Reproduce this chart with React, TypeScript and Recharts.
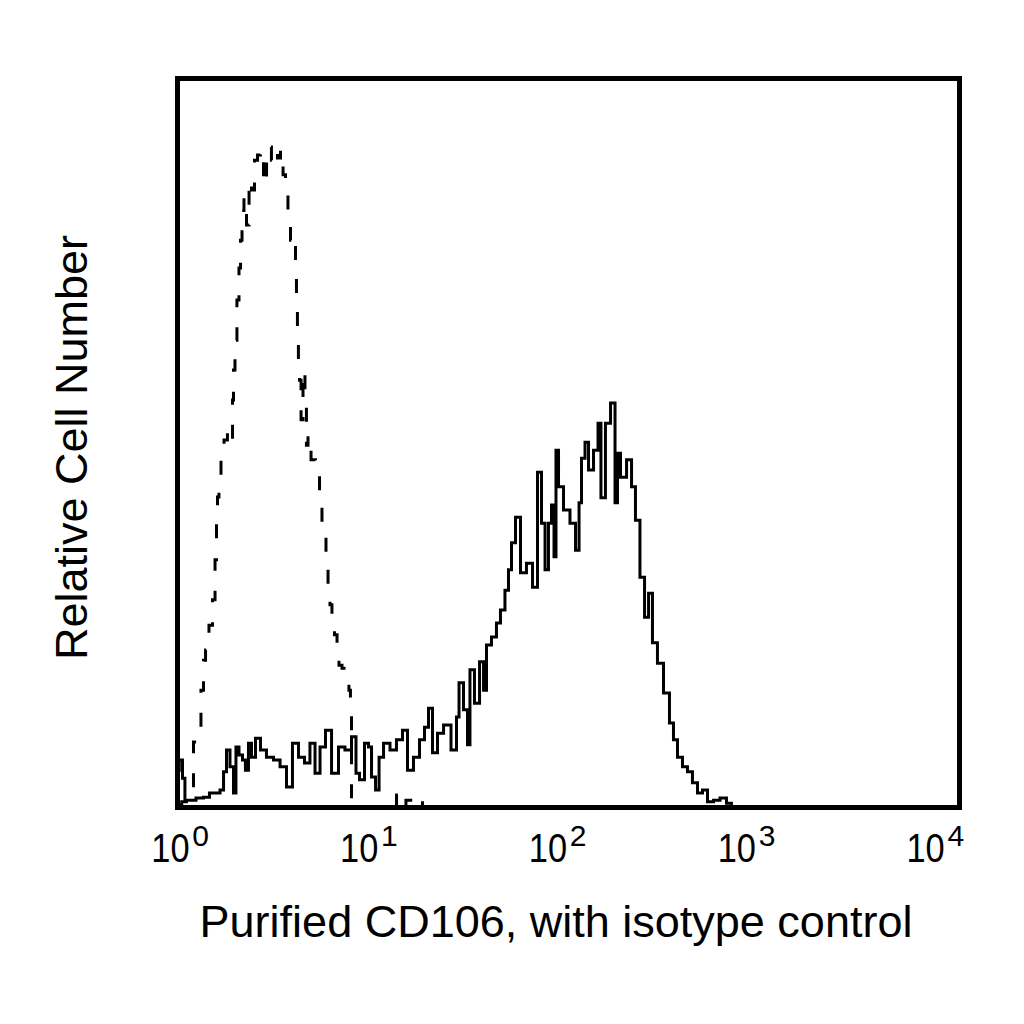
import React from "react";
import { LineChart, Line, XAxis, YAxis, ReferenceArea } from "recharts";

// x = log10(fluorescence intensity), y = relative cell number (% of plot height)
const solidX = [
  0.0, 0.018, 0.033, 0.043, 0.074, 0.115, 0.151, 0.176, 0.207, 0.228, 0.243, 0.258, 0.279, 0.294, 0.304,
  0.325, 0.34, 0.355, 0.371, 0.386, 0.412, 0.437, 0.473, 0.509, 0.54, 0.575, 0.601, 0.637, 0.662, 0.693,
  0.714, 0.744, 0.77, 0.806, 0.841, 0.872, 0.908, 0.918, 0.944, 0.969, 0.985, 1.0, 1.026, 1.036, 1.072,
  1.102, 1.138, 1.164, 1.189, 1.225, 1.251, 1.276, 1.292, 1.317, 1.343, 1.379, 1.419, 1.435, 1.445, 1.481,
  1.486, 1.506, 1.532, 1.558, 1.573, 1.588, 1.624, 1.639, 1.665, 1.685, 1.701, 1.716, 1.742, 1.767, 1.803,
  1.829, 1.854, 1.87, 1.89, 1.905, 1.921, 1.931, 1.941, 1.957, 1.992, 2.023, 2.049, 2.059, 2.074, 2.095,
  2.11, 2.146, 2.156, 2.176, 2.202, 2.228, 2.248, 2.253, 2.279, 2.315, 2.33, 2.355, 2.376, 2.402, 2.417,
  2.442, 2.468, 2.504, 2.529, 2.545, 2.57, 2.596, 2.621, 2.647, 2.673, 2.698, 2.724, 2.76, 2.79, 2.826,
  2.841, 4.0,
];
const solidY = [
  5.1, 6.5, 4.0, 1.0, 1.0, 1.3, 1.4, 2.0, 2.0, 2.4, 4.9, 7.9, 5.6, 2.0, 8.3,
  7.2, 6.5, 5.1, 8.8, 6.9, 9.5, 7.9, 6.9, 6.5, 5.6, 2.8, 8.8, 6.9, 6.1, 8.8,
  4.7, 8.3, 10.6, 4.7, 8.3, 7.9, 9.7, 4.7, 3.8, 8.8, 8.3, 4.2, 2.4, 6.9, 8.8,
  7.9, 9.3, 10.6, 5.1, 6.9, 9.3, 11.0, 13.6, 7.5, 10.2, 11.3, 7.9, 12.4, 17.1, 13.4,
  8.6, 18.9, 14.3, 20.0, 16.1, 22.3, 23.4, 25.3, 27.1, 29.8, 32.6, 36.3, 39.8, 32.2, 33.5,
  30.2, 46.0, 39.0, 32.6, 39.0, 41.5, 34.4, 49.0, 44.0, 40.8, 39.0, 35.3, 41.8, 47.9, 50.1,
  46.3, 49.0, 52.7, 42.5, 52.7, 55.5, 41.8, 48.6, 45.3, 47.7, 44.0, 39.4, 31.6, 26.1, 29.4,
  22.6, 19.8, 15.7, 11.6, 9.3, 6.9, 5.6, 4.9, 3.4, 2.0, 2.4, 0.8, 1.0, 1.3, 0.6,
  0.0, 0.0,
];

const isoX = [
  0.0, 0.043, 0.074, 0.09, 0.11, 0.13, 0.136, 0.151, 0.171, 0.187, 0.197, 0.202, 0.207, 0.217, 0.228,
  0.248, 0.263, 0.279, 0.284, 0.289, 0.299, 0.309, 0.32, 0.325, 0.335, 0.345, 0.361, 0.371, 0.386, 0.402,
  0.417, 0.432, 0.448, 0.463, 0.473, 0.488, 0.504, 0.519, 0.535, 0.545, 0.56, 0.57, 0.586, 0.601, 0.606,
  0.611, 0.616, 0.621, 0.627, 0.637, 0.647, 0.657, 0.662, 0.673, 0.693, 0.719, 0.734, 0.744, 0.754, 0.765,
  0.775, 0.785, 0.795, 0.811, 0.821, 0.831, 0.852, 0.872, 0.882, 0.887, 0.893, 1.113, 1.128, 1.148, 1.189,
  1.215, 1.24, 1.266, 4.0,
];
const isoY = [
  0.3, 0.8, 1.3, 9.0, 10.6, 16.1, 20.2, 21.6, 25.0, 28.5, 34.0, 39.4, 42.6, 44.7, 47.7,
  50.4, 51.8, 50.4, 55.9, 60.0, 64.1, 69.6, 74.0, 77.8, 81.9, 83.7, 79.9, 86.1, 84.7, 88.8,
  89.5, 90.2, 85.4, 88.8, 90.6, 88.8, 90.2, 89.1, 90.2, 86.8, 84.7, 81.3, 77.8, 78.5, 73.7,
  68.2, 64.1, 60.7, 58.6, 53.2, 60.0, 55.9, 49.7, 51.1, 47.7, 46.7, 42.9, 39.4, 37.1, 34.0,
  29.8, 27.8, 24.8, 23.7, 21.6, 19.5, 19.1, 18.5, 16.1, 12.7, 0.0, 0.0, 1.7, 0.0, 1.0,
  1.6, 1.0, 0.0, 0.0,
];

const decadeTicks = [0, 1, 2, 3, 4];
const xTitle = "Purified CD106, with isotype control";
const yTitle = "Relative Cell Number";

const solidData = solidX.map((x, i) => ({ x, y: solidY[i] }));
const isoData = isoX.map((x, i) => ({ x, y: isoY[i] }));

const FONT = "'Liberation Sans', Arial, Helvetica, sans-serif";

const DecadeTick = (props: any) => {
  const { x, payload } = props;
  const v = payload.value;
  const L = x - 26.25 - 6.7 * v;
  return (
    <g>
      <text
        transform={`translate(${L},862) scale(0.86,1)`}
        fontSize={40}
        fontFamily={FONT}
        fill="#000"
      >
        10
      </text>
      <text x={L + 41} y={846} fontSize={30} fontFamily={FONT} fill="#000">
        {v}
      </text>
    </g>
  );
};

export default function App() {
  return (
    <div style={{ position: "absolute", left: 0, top: 0, width: 1024, height: 1024, background: "#fff" }}>
      <LineChart
        width={1024}
        height={1024}
        margin={{ top: 78.5, right: 64.5, bottom: 176.5, left: 177.5 }}
      >
        <XAxis
          type="number"
          dataKey="x"
          domain={[0, 4]}
          ticks={decadeTicks}
          allowDataOverflow
          height={40}
          axisLine={false}
          tickLine={false}
          tick={(p: any) => <DecadeTick {...p} />}
          interval={0}
        />
        <YAxis type="number" domain={[0, 100]} hide allowDataOverflow />
        <Line
          data={isoData}
          dataKey="y"
          type="step"
          stroke="#000"
          strokeWidth={3}
          strokeDasharray="14 20"
          dot={false}
          isAnimationActive={false}
        />
        <Line
          data={solidData}
          dataKey="y"
          type="step"
          stroke="#000"
          strokeWidth={3}
          dot={false}
          isAnimationActive={false}
        />
        <ReferenceArea
          x1={0}
          x2={4}
          y1={0}
          y2={100}
          fill="none"
          fillOpacity={0}
          stroke="#000"
          strokeWidth={5}
          ifOverflow="visible"
        />
      </LineChart>
      <svg
        width={1024}
        height={1024}
        style={{ position: "absolute", left: 0, top: 0, pointerEvents: "none" }}
      >
        <text x={556} y={937} textAnchor="middle" fontSize={45} fontFamily={FONT} fill="#000">
          {xTitle}
        </text>
        <text
          x={87}
          y={447.5}
          transform="rotate(-90 87 447.5)"
          textAnchor="middle"
          fontSize={45}
          fontFamily={FONT}
          fill="#000"
        >
          {yTitle}
        </text>
      </svg>
    </div>
  );
}
